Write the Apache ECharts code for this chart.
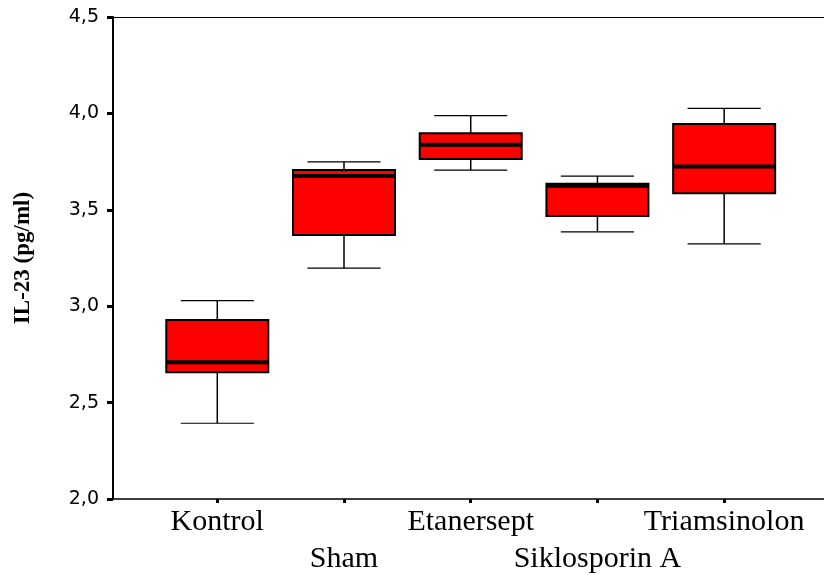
<!DOCTYPE html>
<html>
<head>
<meta charset="utf-8">
<script src="https://cdn.jsdelivr.net/npm/echarts@6/dist/echarts.min.js"></script>
<style>html,body{margin:0;padding:0;background:#fff}#c{width:824px;height:575px}</style>
</head>
<body>
<div id="c"></div>
<script>
const categories = ['Kontrol', 'Sham', 'Etanersept', 'Siklosporin A', 'Triamsinolon'];
const positions = [1, 2, 3, 4, 5];
const mins    = [2.393, 3.197, 3.706, 3.385, 3.323];
const q1s     = [2.657, 3.369, 3.764, 3.468, 3.586];
const medians = [2.709, 3.675, 3.838, 3.625, 3.724];
const q3s     = [2.928, 3.706, 3.897, 3.635, 3.945];
const maxs    = [3.029, 3.749, 3.988, 3.675, 4.026];
const row1Positions = [1, 3, 5];
const row2Positions = [2, 4];

const BOX_W = 0.805;   // in axis units
const CAP_W = 0.577;
const X_MIN = 0.177, X_MAX = 5.788;

const seriesData = positions.map((p, i) => [p, mins[i], q1s[i], medians[i], q3s[i], maxs[i]]);

function renderItem(params, api) {
  const x = api.value(0);
  const pMin = api.coord([x, api.value(1)]);
  const pQ1 = api.coord([x, api.value(2)]);
  const pMed = api.coord([x, api.value(3)]);
  const pQ3 = api.coord([x, api.value(4)]);
  const pMax = api.coord([x, api.value(5)]);
  const bw = api.size([BOX_W, 0])[0];
  const cw = api.size([CAP_W, 0])[0];
  const cx = pMed[0];
  const ls = { stroke: '#000', lineWidth: 1.5 };
  return {
    type: 'group',
    children: [
      { type: 'line', shape: { x1: cx, y1: pQ3[1], x2: cx, y2: pMax[1] }, style: ls },
      { type: 'line', shape: { x1: cx, y1: pQ1[1], x2: cx, y2: pMin[1] }, style: ls },
      { type: 'line', shape: { x1: cx - cw / 2, y1: pMax[1], x2: cx + cw / 2, y2: pMax[1] }, style: { stroke: '#000', lineWidth: 1.2 } },
      { type: 'line', shape: { x1: cx - cw / 2, y1: pMin[1], x2: cx + cw / 2, y2: pMin[1] }, style: { stroke: '#000', lineWidth: 1.2 } },
      { type: 'rect', shape: { x: cx - bw / 2, y: pQ3[1], width: bw, height: pQ1[1] - pQ3[1] }, style: { fill: '#ff0000', stroke: '#000', lineWidth: 2 } },
      { type: 'line', shape: { x1: cx - bw / 2, y1: pMed[1], x2: cx + bw / 2, y2: pMed[1] }, style: { stroke: '#000', lineWidth: 4 } }
    ]
  };
}

const labelBase = {
  fontFamily: 'Liberation Serif',
  fontSize: 30,
  color: '#000',
  showMaxLabel: true,
  showMinLabel: true,
  hideOverlap: false,
  formatter: function (v) { return categories[Math.round(v) - 1]; }
};

const chart = echarts.init(document.getElementById('c'), null, { renderer: 'canvas' });
chart.setOption({
  backgroundColor: '#fff',
  animation: false,
  grid: { left: 113, right: 0, top: 17, bottom: 76, outerBoundsMode: 'none' },
  xAxis: [{
    type: 'value',
    min: X_MIN,
    max: X_MAX,
    position: 'bottom',
    splitLine: { show: false },
    axisLine: { show: true, onZero: false, lineStyle: { color: '#000', width: 1.5 } },
    axisTick: { show: true, customValues: positions, length: 4, lineStyle: { color: '#000', width: 3 } },
    axisLabel: Object.assign({}, labelBase, { customValues: row1Positions, margin: 8 })
  }, {
    type: 'value',
    min: X_MIN,
    max: X_MAX,
    position: 'bottom',
    splitLine: { show: false },
    axisLine: { show: false, onZero: false },
    axisTick: { show: false },
    axisLabel: Object.assign({}, labelBase, { customValues: row2Positions, margin: 45 })
  }, {
    type: 'value',
    min: X_MIN,
    max: X_MAX,
    position: 'top',
    splitLine: { show: false },
    axisLine: { show: true, onZero: false, lineStyle: { color: '#000', width: 1.2 } },
    axisTick: { show: false },
    axisLabel: { show: false }
  }],
  yAxis: {
    type: 'value',
    min: 2.0,
    max: 4.5,
    interval: 0.5,
    name: 'IL-23 (pg/ml)',
    nameLocation: 'middle',
    nameGap: 78,
    nameTextStyle: { fontFamily: 'Liberation Serif', fontWeight: 'bold', fontSize: 23, color: '#000' },
    splitLine: { show: false },
    axisLine: { show: true, onZero: false, lineStyle: { color: '#000', width: 2 } },
    axisTick: { show: true, length: 6, lineStyle: { color: '#000', width: 3 } },
    axisLabel: {
      margin: 14,
      fontFamily: 'DejaVu Sans',
      fontSize: 19,
      color: '#000',
      formatter: function (v) { return v.toFixed(1).replace('.', ','); }
    }
  },
  series: [{
    type: 'custom',
    xAxisIndex: 0,
    renderItem: renderItem,
    encode: { x: 0, y: [1, 2, 3, 4, 5] },
    data: seriesData
  }]
});
</script>
</body>
</html>
